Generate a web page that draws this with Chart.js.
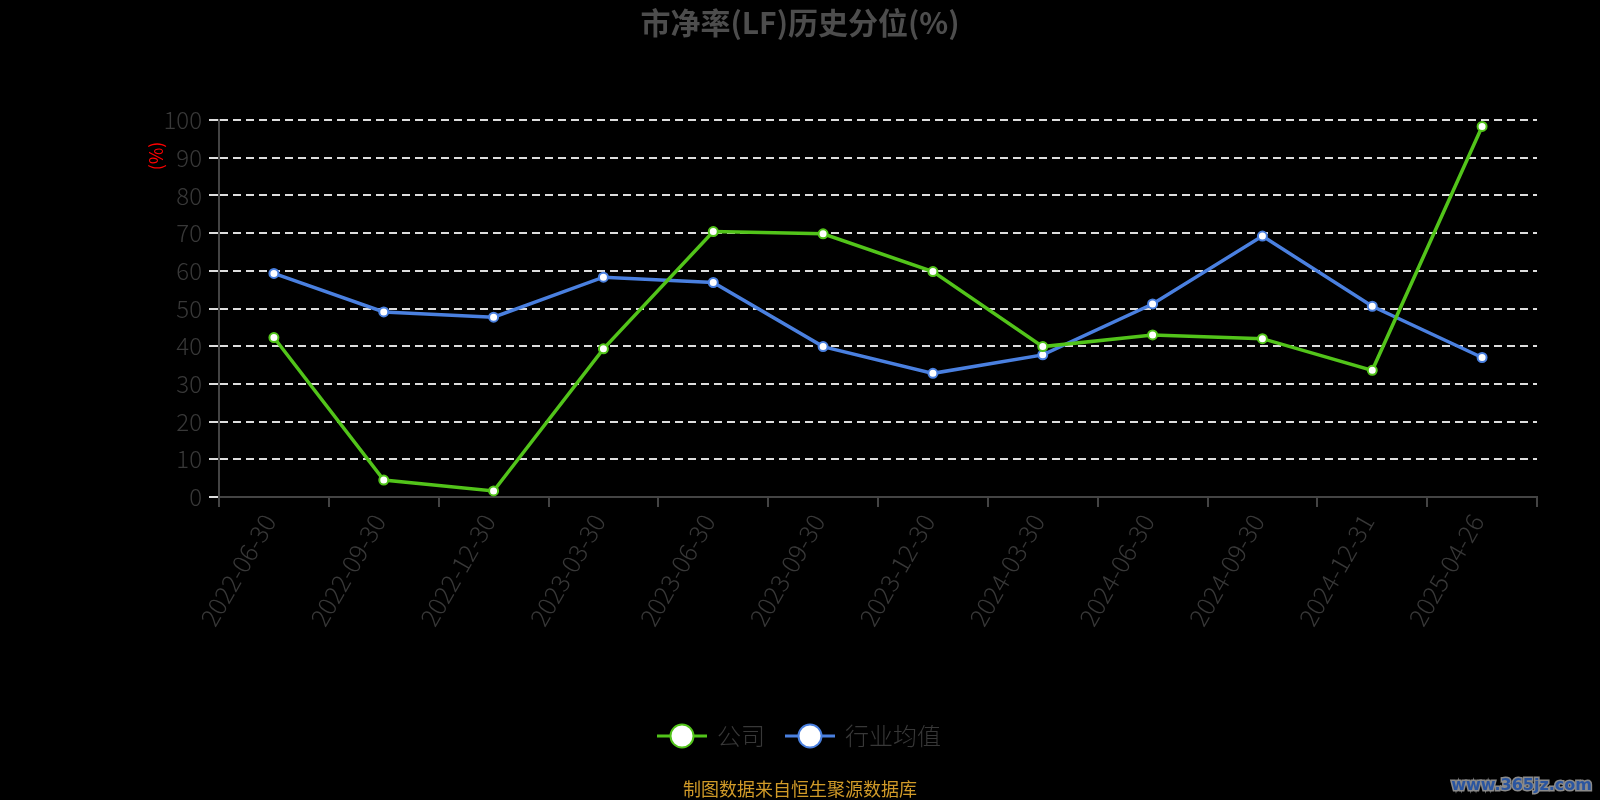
<!DOCTYPE html>
<html>
<head>
<meta charset="utf-8">
<script src="https://cdn.jsdelivr.net/npm/chart.js@4/dist/chart.umd.min.js"></script>
<style>
  html, body { margin: 0; padding: 0; background: #000; }
  #wrap { width: 1600px; height: 800px; }
</style>
</head>
<body>
<div id="wrap"><canvas id="lineChart" width="1600" height="800"></canvas></div>
<script>
const dates = ['2022-06-30', '2022-09-30', '2022-12-30', '2023-03-30', '2023-06-30', '2023-09-30',
               '2023-12-30', '2024-03-30', '2024-06-30', '2024-09-30', '2024-12-31', '2025-04-26'];
const companyPct = [42.3, 4.5, 1.6, 39.3, 70.4, 69.8, 59.8, 39.9, 43.0, 42.0, 33.6, 98.3];
const industryPct = [59.3, 49.1, 47.7, 58.3, 56.9, 39.9, 32.8, 37.7, 51.2, 69.2, 50.6, 37.0];
const yTicks = [0, 10, 20, 30, 40, 50, 60, 70, 80, 90, 100];

const green = '#52c41a';
const blue = '#4a80e0';
const font = '"Noto Sans CJK SC", "Noto Sans", sans-serif';

// legend symbol: short line with a big hollow circle
function legendIcon(color) {
    var c = document.createElement('canvas');
    c.width = 50; c.height = 28;
    var g = c.getContext('2d');
    g.strokeStyle = color;
    g.lineWidth = 3;
    g.beginPath(); g.moveTo(0, 14); g.lineTo(50, 14); g.stroke();
    g.beginPath(); g.arc(25, 14, 11.5, 0, Math.PI * 2);
    g.fillStyle = '#fff'; g.fill();
    g.lineWidth = 2; g.stroke();
    return c;
}
const icons = [legendIcon(green), legendIcon(blue)];

// extra texts: unit label, footer, watermark
const extras = {
    id: 'extras',
    afterDraw(chart) {
        var ctx = chart.ctx;
        ctx.save();
        ctx.translate(156, 156);
        ctx.rotate(-Math.PI / 2);
        ctx.fillStyle = '#ff0000';
        ctx.font = '18px ' + font;
        ctx.textAlign = 'center';
        ctx.textBaseline = 'middle';
        ctx.fillText('(%)', 0, 0);
        ctx.restore();

        ctx.save();
        ctx.fillStyle = '#d09a28';
        ctx.font = '18px ' + font;
        ctx.textAlign = 'center';
        ctx.textBaseline = 'middle';
        ctx.fillText('制图数据来自恒生聚源数据库', 800, 789);

        ctx.font = 'bold 16px "DejaVu Sans", sans-serif';
        ctx.textAlign = 'right';
        ctx.lineWidth = 3;
        ctx.strokeStyle = '#8a8a8a';
        ctx.strokeText('www.365jz.com', 1592, 786);
        ctx.fillStyle = '#2a55a0';
        ctx.fillText('www.365jz.com', 1592, 786);
        ctx.restore();
    }
};

document.addEventListener('DOMContentLoaded', function () {
    var ctx = document.getElementById('lineChart').getContext('2d');
    var lineChart = new Chart(ctx, {
        type: 'line',
        data: {
            labels: dates,
            datasets: [{
                label: '公司',
                data: companyPct,
                borderColor: green,
                backgroundColor: '#fff',
                borderWidth: 3.5,
                pointRadius: 4.5,
                pointBorderWidth: 2,
                pointBackgroundColor: '#fff',
                pointBorderColor: green,
                tension: 0
            }, {
                label: '行业均值',
                data: industryPct,
                borderColor: blue,
                backgroundColor: '#fff',
                borderWidth: 3.5,
                pointRadius: 4.5,
                pointBorderWidth: 2,
                pointBackgroundColor: '#fff',
                pointBorderColor: blue,
                tension: 0
            }]
        },
        options: {
            responsive: false,
            animation: false,
            layout: { padding: { left: 0, right: 0, top: 0, bottom: 42 } },
            scales: {
                x: {
                    offset: true,
                    grid: {
                        offset: true,
                        drawOnChartArea: false,
                        color: '#444',
                        lineWidth: 2,
                        tickLength: 10
                    },
                    border: { color: '#444', width: 2 },
                    ticks: {
                        color: '#383838',
                        font: { family: font, size: 25, weight: 300 },
                        maxRotation: 60,
                        minRotation: 60,
                        autoSkip: false,
                        padding: 2,
                        labelOffset: -5
                    },
                    afterFit: function (scale) { scale.height = 205; }
                },
                y: {
                    min: 0,
                    max: 100,
                    afterBuildTicks: function (scale) {
                        scale.ticks = yTicks.map(function (v) { return { value: v }; });
                    },
                    grid: {
                        color: '#dddddd',
                        lineWidth: 2,
                        tickLength: 10
                    },
                    border: { color: '#444', width: 2, dash: [8, 5] },
                    ticks: {
                        color: '#383838',
                        font: { family: font, size: 24, weight: 300 },
                        padding: 7
                    },
                    afterFit: function (scale) { scale.width = 219; }
                },
                // empty right axis, only keeps the plot clear of the right edge
                spacer: {
                    type: 'linear',
                    position: 'right',
                    display: true,
                    grid: { display: false },
                    border: { display: false },
                    ticks: { display: false },
                    afterFit: function (scale) { scale.width = 63; }
                }
            },
            plugins: {
                title: {
                    display: true,
                    text: '市净率(LF)历史分位(%)',
                    color: '#4d4d4d',
                    font: { family: font, size: 30, weight: 'bold' },
                    padding: { top: 5, bottom: 79 }
                },
                legend: {
                    display: true,
                    position: 'bottom',
                    labels: {
                        color: '#333',
                        font: { family: font, size: 24, weight: 300 },
                        usePointStyle: true,
                        pointStyleWidth: 46,
                        padding: 22,
                        generateLabels: function (chart) {
                            return chart.data.datasets.map(function (ds, i) {
                                return {
                                    text: ds.label,
                                    pointStyle: icons[i],
                                    fontColor: '#383838',
                                    lineWidth: 0,
                                    hidden: false,
                                    datasetIndex: i
                                };
                            });
                        }
                    }
                },
                tooltip: { enabled: false }
            }
        },
        plugins: [extras]
    });
});
</script>
</body>
</html>
